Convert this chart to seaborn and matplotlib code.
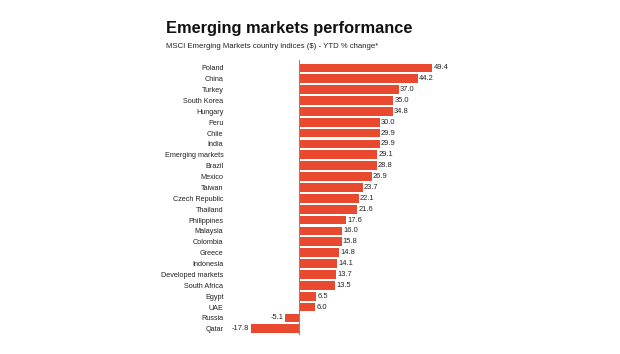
import numpy as np
import pandas as pd
import matplotlib
matplotlib.use("Agg")
import matplotlib.pyplot as plt
import seaborn as sns

# data
countries = ["Poland", "China", "Turkey", "South Korea", "Hungary", "Peru", "Chile",
             "India", "Emerging markets", "Brazil", "Mexico", "Taiwan", "Czech Republic",
             "Thailand", "Philippines", "Malaysia", "Colombia", "Greece", "Indonesia",
             "Developed markets", "South Africa", "Egypt", "UAE", "Russia", "Qatar"]
ytd_change = [49.4, 44.2, 37.0, 35.0, 34.8, 30.0, 29.9,
              29.9, 29.1, 28.8, 26.9, 23.7, 22.1,
              21.6, 17.6, 16.0, 15.8, 14.8, 14.1,
              13.7, 13.5, 6.5, 6.0, -5.1, -17.8]

df = pd.DataFrame({"country": countries, "change": ytd_change})

sns.set_theme(style="white")
plt.rcParams["font.family"] = ["Liberation Sans", "DejaVu Sans"]

BAR = "#E8492F"

fig = plt.figure(figsize=(6.2, 3.54), dpi=100)
ax = fig.add_axes([0.3995, 0.0528, 0.309, 0.7785])

sns.barplot(data=df, y="country", x="change", orient="h", color=BAR,
            width=0.8, saturation=1, linewidth=0, ax=ax)

ax.set_xlim(-19, 52)
ax.set_ylim(len(countries) - 0.4, -0.75)
ax.axvline(0, color="#888888", lw=0.8, zorder=3)

for i, v in enumerate(ytd_change):
    if v >= 0:
        ax.text(v + 0.4, i, f"{v:.1f}", va="center", ha="left", fontsize=5.4, color="#222222")
    else:
        ax.text(v - 0.6, i, f"{v:.1f}", va="center", ha="right", fontsize=5.4, color="#222222")

ax.set_xlabel("")
ax.set_ylabel("")
ax.set_xticks([])
ax.tick_params(axis="y", length=0, pad=17.5, labelsize=5.2, labelcolor="#222222")
for lbl in ax.get_yticklabels():
    lbl.set_ha("right")
sns.despine(ax=ax, left=True, bottom=True)

fig.text(166 / 620, 1 - 29 / 354, "Emerging markets performance", fontsize=11.8,
         fontweight="bold", color="#111111", va="center", ha="left")
fig.text(166 / 620, 1 - 46 / 354, "MSCI Emerging Markets country indices ($) - YTD % change*",
         fontsize=5.6, color="#222222", va="center", ha="left")

fig.savefig("out.png", dpi=100, facecolor="white")
